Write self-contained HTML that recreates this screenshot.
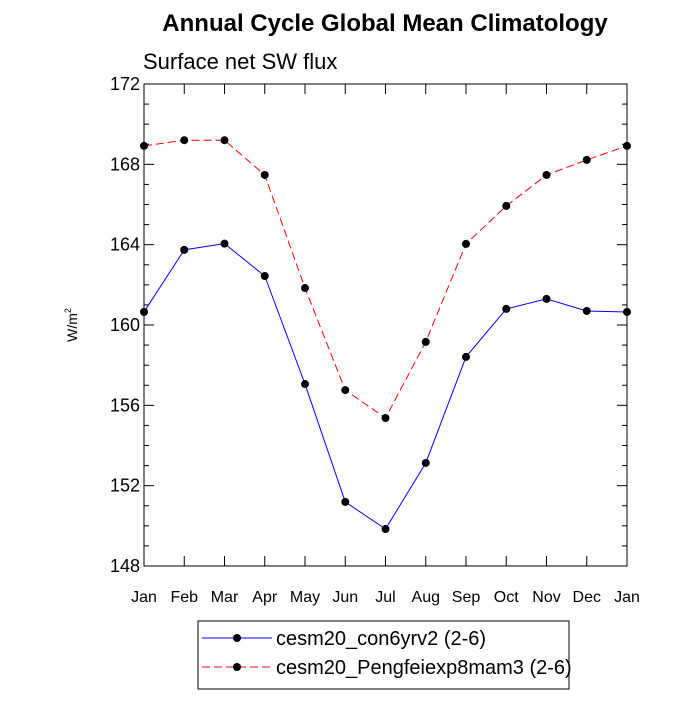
<!DOCTYPE html>
<html><head><meta charset="utf-8"><style>body{margin:0;background:#fff}svg{font-family:"Liberation Sans",sans-serif}</style></head>
<body>
<svg id="c" width="700" height="700">
<text x="385" y="31" text-anchor="middle" font-size="24" font-weight="bold">Annual Cycle Global Mean Climatology</text>
<text x="143" y="69" font-size="22">Surface net SW flux</text>
<text transform="translate(77,325) rotate(-90)" text-anchor="middle" font-size="14">W/m<tspan dy="-6" font-size="9">2</tspan></text>
<g id="g"></g>
<rect x="198" y="621" width="371" height="68" fill="none" stroke="#000" stroke-width="1"/>
<g><line x1="202" y1="638" x2="272" y2="638" stroke="#00f"/><circle cx="237" cy="638" r="4" fill="#000"/><text x="276" y="645" font-size="20">cesm20_con6yrv2 (2-6)</text></g>
<g><line x1="202" y1="667" x2="272" y2="667" stroke="#f00" stroke-dasharray="8,4"/><circle cx="237" cy="667" r="4" fill="#000"/><text x="276" y="674" font-size="20">cesm20_Pengfeiexp8mam3 (2-6)</text></g>
</svg>
<script>
const months=["Jan","Feb","Mar","Apr","May","Jun","Jul","Aug","Sep","Oct","Nov","Dec","Jan"];
const yTicks=[148,152,156,160,164,168,172];
const seriesCon=[160.65,163.74,164.05,162.44,157.06,151.19,149.84,153.13,158.41,160.8,161.3,160.7,160.65];
const seriesPeng=[168.92,169.2,169.2,167.47,161.84,156.76,155.37,159.16,164.04,165.93,167.47,168.22,168.92];
const L=144,R=627,T=84,B=566,ymin=148,ymax=172;
const xs=i=>L+(R-L)*i/(months.length-1);
const ys=v=>B-(v-ymin)/(ymax-ymin)*(B-T);
const g=document.getElementById('g');const NS="http://www.w3.org/2000/svg";
function mk(t,a,p){const e=document.createElementNS(NS,t);for(const k in a)e.setAttribute(k,a[k]);(p||g).appendChild(e);return e;}
const fr=mk('rect',{x:L,y:T,width:R-L,height:B-T,fill:'none',stroke:'#000','stroke-width':1});


for(let v=ymin;v<=ymax;v++){const maj=(v-ymin)%4===0;const len=maj?10:5;const y=ys(v);
mk('line',{x1:L,y1:y,x2:L+len,y2:y,stroke:'#000'});mk('line',{x1:R,y1:y,x2:R-len,y2:y,stroke:'#000'});}
yTicks.forEach(v=>{const t=mk('text',{x:L-4,y:ys(v)+6,'text-anchor':'end','font-size':18});t.textContent=v;

});
months.forEach((m,i)=>{const x=xs(i);mk('line',{x1:x,y1:B,x2:x,y2:B-10,stroke:'#000'});mk('line',{x1:x,y1:T,x2:x,y2:T+10,stroke:'#000'});
const t=mk('text',{x:x,y:B+36,'text-anchor':'middle','font-size':16});t.textContent=m;

});
function series(d,col,dash,name){const p=mk('polyline',{points:d.map((v,i)=>xs(i)+','+ys(v)).join(' '),fill:'none',stroke:col,'stroke-width':1,'stroke-dasharray':dash});


d.forEach((v,i)=>{const c=mk('circle',{cx:xs(i),cy:ys(v),r:4,fill:'#000'});

});}
series(seriesCon,'#00f','none','con6yrv2');
series(seriesPeng,'#f00','8,4','pengfeiexp8mam3');
</script>
</body></html>
